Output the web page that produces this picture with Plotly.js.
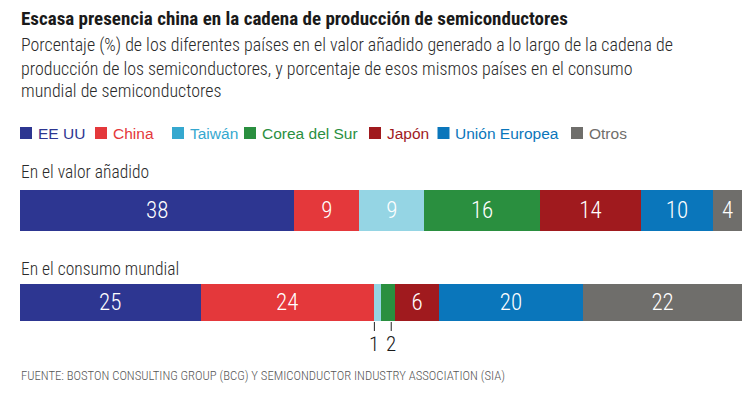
<!DOCTYPE html>
<html>
<head>
<meta charset="utf-8">
<script src="https://cdn.plot.ly/plotly-3.0.1.min.js"></script>
<style>
html,body{margin:0;padding:0;background:#fff;}
#chart{width:750px;height:399px;}
</style>
</head>
<body>
<div id="chart"></div>
<script>
const categories = ['EE UU','China','Taiwán','Corea del Sur','Japón','Unión Europea','Otros'];
const rowLabels = ['En el valor añadido','En el consumo mundial'];
const valorAnadido = [38,9,9,16,14,10,4];
const consumoMundial = [25,24,1,2,6,20,22];
const barColors = ['#2d3691','#e4383b','#95d5e4','#2a8f3f','#a01a1e','#0a76bb','#6f6e6b'];
const legendColors = ['#2d3691','#e4383b','#35a8cf','#2a8f3f','#a01a1e','#0a76bb','#6f6e6b'];
const titleText = 'Escasa presencia china en la cadena de producción de semiconductores';
const subtitleLines = ['Porcentaje (%) de los diferentes países en el valor añadido generado a lo largo de la cadena de',
  'producción de los semiconductores, y porcentaje de esos mismos países en el consumo',
  'mundial de semiconductores'];
const sourceText = 'FUENTE: BOSTON CONSULTING GROUP (BCG) Y SEMICONDUCTOR INDUSTRY ASSOCIATION (SIA)';

const COND = '"Roboto Condensed", "Liberation Sans", sans-serif';
const SANS = '"Liberation Sans", Arial, sans-serif';
const MIN_INSIDE = 3;

// pixel helpers for paper coordinates (plot area: x 20..742, y 185..326)
const PL = 20, PW = 722, PT = 185, PH = 141;
const px = x => (x - PL) / PW;
const py = y => (PT + PH - y) / PH;

const traces = categories.map((c, i) => ({
  type: 'bar', orientation: 'h', name: c,
  x: [valorAnadido[i], consumoMundial[i]],
  y: [1, 0],
  width: [0.446, 0.402],
  marker: {color: barColors[i], line: {width: 0}},
  text: [valorAnadido[i], consumoMundial[i]].map(v => v >= MIN_INSIDE ? String(v) : ''),
  textposition: 'inside', insidetextanchor: 'middle',
  textfont: {family: COND, size: 23, weight: 300, color: '#ffffff'},
  constraintext: 'none', cliponaxis: false,
  hoverinfo: 'skip', showlegend: false
}));

const annotations = [];
const shapes = [];

annotations.push({xref:'paper', yref:'paper', x: px(19), y: py(19), xanchor:'left', yanchor:'middle',
  text: titleText, showarrow:false, font:{family: COND, size:19, weight: 700, color:'#1a1a1a'}});
subtitleLines.forEach((t, k) => annotations.push({xref:'paper', yref:'paper', x: px(19), y: py(45 + 23*k),
  xanchor:'left', yanchor:'middle', text: t, showarrow:false, font:{family: COND, size:17.9, weight: 300, color:'#2a2a2a'}}));

// legend
const legendSq = [20, 95, 172, 244, 369, 437.5, 571];
categories.forEach((c, i) => {
  shapes.push({type:'rect', xref:'paper', yref:'paper', x0: px(legendSq[i]), x1: px(legendSq[i]+12),
    y0: py(139), y1: py(127), fillcolor: legendColors[i], line:{width:0}});
  annotations.push({xref:'paper', yref:'paper', x: px(legendSq[i]+15.5), y: py(133), xanchor:'left', yanchor:'middle',
    text: c, showarrow:false, font:{family: SANS, size:15.5, color: legendColors[i]}});
});

// row labels
annotations.push({xref:'paper', yref:'paper', x: px(19), y: py(172), xanchor:'left', yanchor:'middle',
  text: rowLabels[0], showarrow:false, font:{family: COND, size:17.5, weight: 300, color:'#2a2a2a'}});
annotations.push({xref:'paper', yref:'paper', x: px(19), y: py(269), xanchor:'left', yanchor:'middle',
  text: rowLabels[1], showarrow:false, font:{family: COND, size:17.5, weight: 300, color:'#2a2a2a'}});

// small values of the consumption bar: labelled below with a tick
let cum = 0, nSmall = 0;
const offs = [-3, 3];
consumoMundial.forEach((v, i) => {
  const mid = cum + v / 2;
  if (v < MIN_INSIDE) {
    const o = offs[nSmall++] || 0;
    shapes.push({type:'line', xref:'x', yref:'paper', xsizemode:'pixel', xanchor: mid, x0: o, x1: o,
      y0: py(322), y1: py(331), line:{color:'#222', width:1}});
    annotations.push({xref:'x', yref:'paper', x: mid, xshift: o, y: py(344), xanchor:'center', yanchor:'middle',
      text: String(v), showarrow:false, font:{family: COND, size:21, weight: 300, color:'#1a1a1a'}});
  }
  cum += v;
});

annotations.push({xref:'paper', yref:'paper', x: px(19), y: py(375), xanchor:'left', yanchor:'middle',
  text: sourceText, showarrow:false, font:{family: COND, size:12.7, weight: 300, color:'#555555'}});

const layout = {
  width: 750, height: 399,
  margin: {l: PL, r: 750 - PL - PW, t: PT, b: 399 - PT - PH, pad: 0},
  barmode: 'stack', bargap: 0,
  paper_bgcolor: '#ffffff', plot_bgcolor: '#ffffff',
  xaxis: {range: [0, 100], visible: false, fixedrange: true},
  yaxis: {range: [-0.255, 1.277], visible: false, fixedrange: true},
  showlegend: false,
  annotations: annotations, shapes: shapes
};

Plotly.newPlot('chart', traces, layout, {displayModeBar: false, staticPlot: true});
</script>
</body>
</html>
